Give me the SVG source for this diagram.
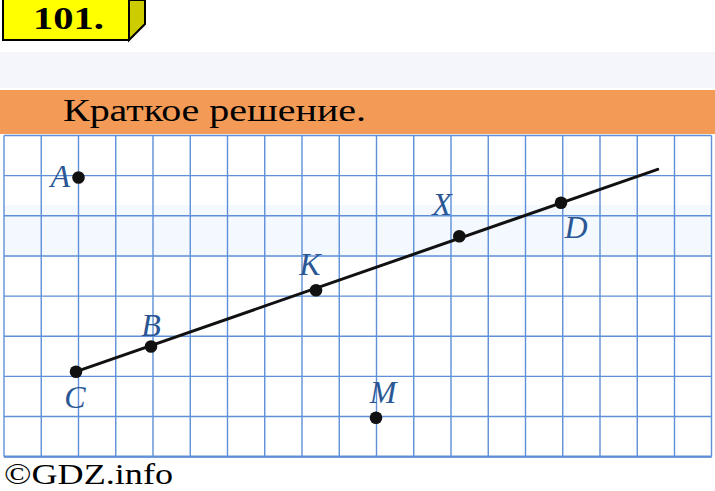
<svg xmlns="http://www.w3.org/2000/svg" width="715" height="491" viewBox="0 0 715 491">
<style>
.grid{stroke:#5E8FD8;stroke-width:1.4;fill:none}
.dot{fill:#111}
.lbl{font-family:"Liberation Serif","DejaVu Serif",serif;font-style:italic;font-size:32px;fill:#2A5794}
.seg{stroke:#111;stroke-width:3;fill:none;stroke-linecap:round}
.serif{font-family:"Liberation Serif","DejaVu Serif",serif}
</style>
<rect x="0" y="0" width="715" height="491" fill="#ffffff"/>
<rect x="0" y="52" width="715" height="36" fill="#F5F5FC"/>
<rect x="4" y="205" width="707" height="50" fill="#F3F9FE"/>
<g id="title-box">
<polygon points="129,0 145,0 145,24 129,40" fill="#CCCC00" stroke="#000" stroke-width="2"/>
<rect x="3" y="-2" width="126" height="42" fill="#FFFF00" stroke="#000" stroke-width="2"/>
<text class="serif" x="33" y="29" font-weight="bold" font-size="31" textLength="71" lengthAdjust="spacingAndGlyphs" fill="#000">101.</text>
</g>
<g id="header">
<rect x="0" y="90" width="715" height="44" fill="#F29A56"/>
<text class="serif" x="63" y="121" font-size="31" textLength="303" lengthAdjust="spacingAndGlyphs" fill="#000">Краткое решение.</text>
</g>
<g id="grid">
<path class="grid" d="M4,135.5V456.7M41.25,135.5V456.7M78.5,135.5V456.7M115.75,135.5V456.7M153,135.5V456.7M190.25,135.5V456.7M227.5,135.5V456.7M264.75,135.5V456.7M302,135.5V456.7M339.25,135.5V456.7M376.5,135.5V456.7M413.75,135.5V456.7M451,135.5V456.7M488.25,135.5V456.7M525.5,135.5V456.7M562.75,135.5V456.7M600,135.5V456.7M637.25,135.5V456.7M674.5,135.5V456.7M711.5,135.5V456.7"/>
<path class="grid" d="M4,135.5H711.5M4,175.65H711.5M4,215.8H711.5M4,255.95H711.5M4,296.1H711.5M4,336.25H711.5M4,376.4H711.5M4,416.55H711.5M4,456.7H711.5"/>
<path d="M4,456.7H711.5" stroke="#5E8FD8" stroke-width="2.2"/>
</g>
<g id="connectors">
<line class="seg" x1="76" y1="371.7" x2="657.7" y2="169.3"/>
</g>
<g id="point-A"><circle class="dot" cx="78.5" cy="177.5" r="6.3"/><text class="lbl" x="70" y="186.5" text-anchor="end">A</text></g>
<g id="point-C"><circle class="dot" cx="76" cy="371.7" r="6.3"/><text class="lbl" x="75" y="408" text-anchor="middle">C</text></g>
<g id="point-B"><circle class="dot" cx="151" cy="346.5" r="6.3"/><text class="lbl" x="151" y="336" text-anchor="middle">B</text></g>
<g id="point-K"><circle class="dot" cx="316" cy="290.3" r="6.3"/><text class="lbl" x="310" y="275" text-anchor="middle">K</text></g>
<g id="point-X"><circle class="dot" cx="459.3" cy="236.3" r="6.3"/><text class="lbl" x="442" y="215" text-anchor="middle">X</text></g>
<g id="point-D"><circle class="dot" cx="561" cy="202.7" r="6.3"/><text class="lbl" x="576" y="238" text-anchor="middle">D</text></g>
<g id="point-M"><circle class="dot" cx="376" cy="417.7" r="6.3"/><text class="lbl" x="383" y="402.7" text-anchor="middle">M</text></g>
<text class="serif" x="4" y="484" font-size="29" textLength="169" lengthAdjust="spacingAndGlyphs" fill="#000">©GDZ.info</text>
</svg>
